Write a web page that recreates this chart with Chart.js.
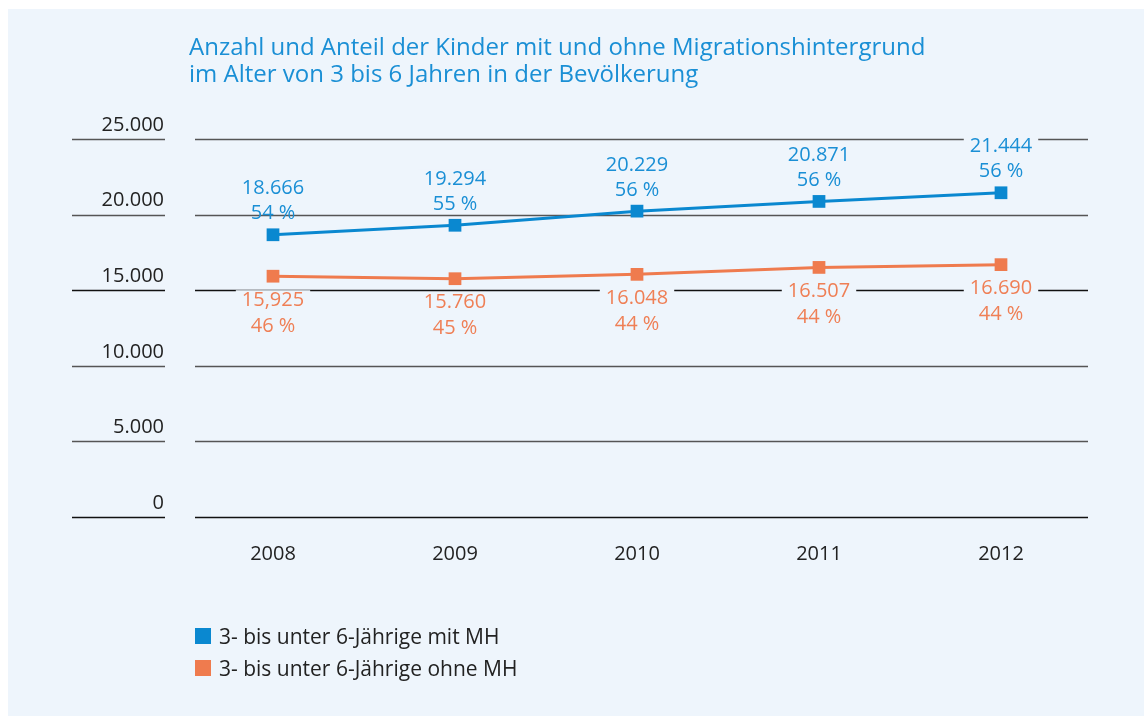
<!DOCTYPE html>
<html>
<head>
<meta charset="utf-8">
<script src="https://cdn.jsdelivr.net/npm/chart.js@4/dist/chart.umd.min.js"></script>
<style>
  html, body { margin: 0; padding: 0; background: #fff; }
  #panel { position: absolute; left: 8px; top: 9px; right: 0; bottom: 0; background: #eef5fc; }
  #wrap { position: absolute; left: 0; top: 0; width: 1144px; height: 716px; }
  #title { position: absolute; left: 189px; top: 32px; font-family: "Open Sans", sans-serif; font-size: 24px;
    line-height: 27px; color: #1a8fd5; }
  #legend { position: absolute; left: 195px; top: 620px; font-family: "Open Sans", sans-serif; font-size: 21px; color: #222; }
  #legend div { height: 32px; display: flex; align-items: center; }
  #legend span.box { display: inline-block; width: 16px; height: 16px; margin-right: 8px; }
</style>
</head>
<body>
<div id="panel"></div>
<div id="wrap"><canvas id="myChart" width="1144" height="716"></canvas></div>
<div id="title">Anzahl und Anteil der Kinder mit und ohne Migrationshintergrund<br>im Alter von 3 bis 6 Jahren in der Bevölkerung</div>
<div id="legend"></div>
<script>
// Data
let years = ['2008', '2009', '2010', '2011', '2012'];
let withMH = [18666, 19294, 20229, 20871, 21444];
let withoutMH = [15925, 15760, 16048, 16507, 16690];
let withMHShare = [54, 55, 56, 56, 56];
let withoutMHShare = [46, 45, 44, 44, 44];
// value labels as printed in the source (incl. its comma at 2008)
let withMHText = ['18.666', '19.294', '20.229', '20.871', '21.444'];
let withoutMHText = ['15,925', '15.760', '16.048', '16.507', '16.690'];
let yTicks = [0, 5000, 10000, 15000, 20000, 25000];
let seriesNames = ['3- bis unter 6-Jährige mit MH', '3- bis unter 6-Jährige ohne MH'];

let blue = '#0a88d0';
let orange = '#ef7b4e';
let panelColor = '#eef5fc';
let fontFamily = '"Open Sans", sans-serif';

function dotted(v) {
  return String(v).replace(/\B(?=(\d{3})+(?!\d))/g, '.');
}

// legend
let legendEl = document.getElementById('legend');
[blue, orange].forEach(function (c, i) {
  let row = document.createElement('div');
  let box = document.createElement('span');
  box.className = 'box';
  box.style.background = c;
  row.appendChild(box);
  row.appendChild(document.createTextNode(seriesNames[i]));
  legendEl.appendChild(row);
});

// horizontal rules: short one under the tick label, long one in the plot
let rulesPlugin = {
  id: 'rules',
  beforeDatasetsDraw(chart) {
    let ctx = chart.ctx;
    let y = chart.scales.y;
    ctx.save();
    ctx.lineWidth = 1.5;
    yTicks.forEach(function (t) {
      let py = Math.round(y.getPixelForValue(t)) + 0.5;
      ctx.strokeStyle = (t === 0 || t === 15000) ? '#111' : '#555';
      ctx.beginPath();
      ctx.moveTo(72, py);
      ctx.lineTo(165, py);
      ctx.moveTo(195, py);
      ctx.lineTo(1088, py);
      ctx.stroke();
    });
    ctx.restore();
  }
};

// value + share labels
let labelPlugin = {
  id: 'valueLabels',
  afterDatasetsDraw(chart) {
    let ctx = chart.ctx;
    ctx.save();
    ctx.font = '20px ' + fontFamily;
    ctx.textAlign = 'center';
    ctx.textBaseline = 'middle';
    let sets = [
      { meta: chart.getDatasetMeta(0), text: withMHText, share: withMHShare, color: '#1a8fd5', off: [-46, -21] },
      { meta: chart.getDatasetMeta(1), text: withoutMHText, share: withoutMHShare, color: '#ef7f55', off: [24, 50] }
    ];
    sets.forEach(function (s) {
      s.meta.data.forEach(function (pt, i) {
        let t = s.text[i];
        let w = ctx.measureText(t).width;
        ctx.fillStyle = panelColor;
        ctx.fillRect(pt.x - w / 2 - 6, pt.y + s.off[0] - 10, w + 12, 20);
        ctx.fillStyle = s.color;
        ctx.fillText(t, pt.x, pt.y + s.off[0]);
        ctx.fillText(s.share[i] + ' %', pt.x, pt.y + s.off[1]);
      });
    });
    ctx.restore();
  }
};

let ctx = document.getElementById('myChart').getContext('2d');
let myChart = new Chart(ctx, {
  type: 'line',
  data: {
    labels: years,
    datasets: [{
      label: seriesNames[0],
      data: withMH,
      borderColor: blue,
      backgroundColor: blue,
      borderWidth: 3,
      pointStyle: 'rect',
      pointRadius: 9,
      pointBorderWidth: 0,
      tension: 0
    }, {
      label: seriesNames[1],
      data: withoutMH,
      borderColor: orange,
      backgroundColor: orange,
      borderWidth: 3,
      pointStyle: 'rect',
      pointRadius: 9,
      pointBorderWidth: 0,
      tension: 0
    }]
  },
  options: {
    responsive: false,
    animation: false,
    layout: { padding: { left: 72, right: 52, top: 139, bottom: 139 } },
    plugins: {
      legend: { display: false },
      title: { display: false },
      tooltip: { enabled: false }
    },
    scales: {
      x: {
        offset: true,
        grid: { display: false, drawTicks: false },
        border: { display: false },
        ticks: { color: '#222', font: { family: fontFamily, size: 20 }, padding: 25 },
        afterFit: function (s) { s.height = 60; }
      },
      y: {
        min: 0,
        max: 25000,
        grid: { display: false, drawTicks: false },
        border: { display: false },
        afterBuildTicks: function (s) { s.ticks = yTicks.map(function (v) { return { value: v }; }); },
        ticks: {
          color: '#222',
          font: { family: fontFamily, size: 20 },
          padding: 18,
          labelOffset: -14,
          callback: function (v) { return dotted(v); }
        },
        afterFit: function (s) { s.width = 110; }
      }
    }
  },
  plugins: [rulesPlugin, labelPlugin]
});
</script>
</body>
</html>
